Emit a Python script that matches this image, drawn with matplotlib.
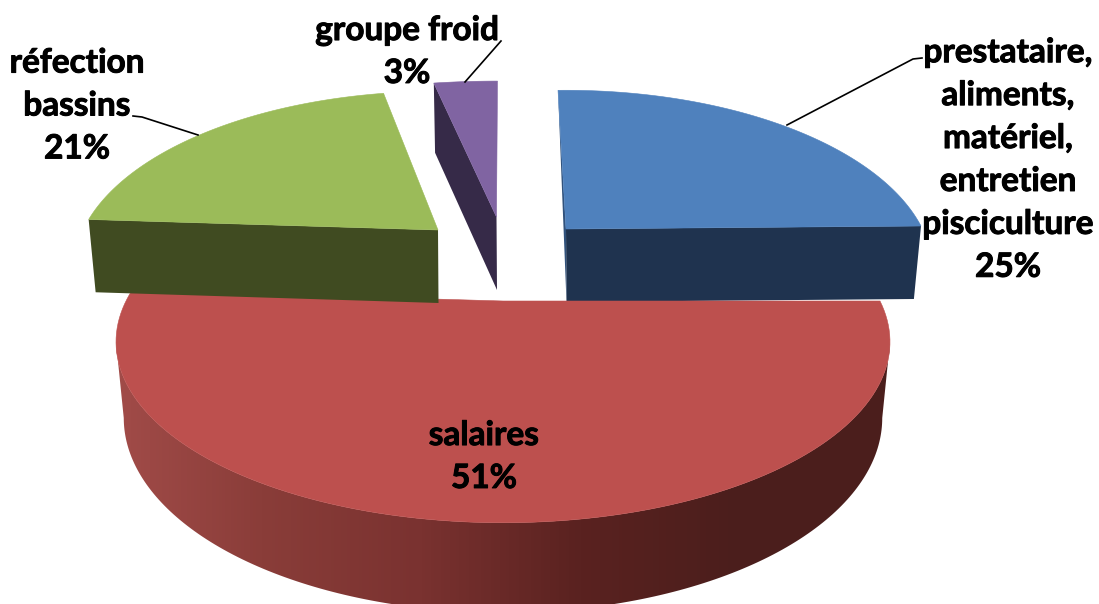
import numpy as np
import matplotlib
matplotlib.use('Agg')
import matplotlib.pyplot as plt
import matplotlib.patheffects as pe
from matplotlib.colors import LinearSegmentedColormap
from matplotlib.patches import Polygon

plt.rcParams['font.family'] = ['Lato', 'DejaVu Sans']

# data
categories = ['prestataire,\naliments,\nmatériel,\nentretien\npisciculture', 'salaires', 'réfection\nbassins', 'groupe froid']
values = [25, 51, 21, 3]

# style of each slice
top_colors = ['#4f81bd', '#bd504e', '#9bbb59', '#8064a2']
wall_colors = ['#1f334f', '#7a3230', '#404b21', '#362a48']
apex_x = [566, 503, 438, 496.5]
apex_y = [229, 301, 230, 217]
width_x = [355, 377, 355, 415]
height_scale = [1.0, 1.01, 1.0, 0.98]
skew = [-9.8, 0, 0, 1.2]
tilt = [3, 0, 0, 0]
label_x = [1008, 484, 77, 407]
label_y = [160, 457, 106, 52]

# perspective of the pie plane
k = 0.2257
B = 170
depth = 73
shrink = 0.98


def rim(i, theta, bottom=False):
    # theta in degrees clockwise from 12 o'clock
    t = np.radians(theta)
    u, v = np.sin(t), np.cos(t)
    w = 1 + k * v
    s = shrink if bottom else 1.0
    x = apex_x[i] + s * (width_x[i] * u + skew[i] * v) / w
    y = (-s * B * height_scale[i] * v) / w - tilt[i] * u
    if bottom:
        # the wall is only a bit shorter towards the back
        y = y + depth / np.where(v < 0, w, 1 + 0.4 * k * v)
    return x, apex_y[i] + y


def apex(i, bottom=False):
    if bottom:
        return apex_x[i] + 0.5, apex_y[i] + depth
    return apex_x[i], apex_y[i]


fig = plt.figure(figsize=(10.99, 6.04), dpi=100, facecolor='white')
ax = fig.add_axes([0, 0, 1, 1])

edges = np.concatenate([[0], np.cumsum(values) * 3.6])

red_cmap = LinearSegmentedColormap.from_list('red_side', ['#a44d4a', '#8a3d39', '#7a3230', '#5a2220', '#4b1e1c', '#4b1e1c'])

# draw back to front
for i in [3, 2, 0, 1]:
    a0, a1 = edges[i], edges[i + 1]
    z = i + 2
    if i == 1:
        # outer wall between the two points where the rim is widest
        widest = np.degrees(np.arccos(-k))
        thetas = np.linspace(widest, 360 - widest, 181)
        tx, ty = rim(i, thetas)
        bx, by = rim(i, thetas, bottom=True)
        wall = Polygon(list(zip(tx, ty)) + list(zip(bx[::-1], by[::-1])), fc='none', ec='none', transform=ax.transData)
        ax.add_patch(wall)
        grad = np.linspace(0, 1, 256).reshape(1, -1)
        im = ax.imshow(grad, cmap=red_cmap, extent=[100, 900, 604, 290], aspect='auto', zorder=z)
        im.set_clip_path(wall)
    elif i == 0:
        # front wall and thin left wall
        ex, ey = rim(i, a1)
        ex2, ey2 = rim(i, a1, bottom=True)
        ax.add_patch(Polygon([apex(i), (ex, ey), (ex2, ey2), apex(i, True)], fc=wall_colors[i], ec='none', zorder=z))
        sx, sy = rim(i, a0)
        ax.add_patch(Polygon([(sx, sy), apex(i), apex(i, True)], fc='#31527c', ec='none', zorder=z))
    else:
        # wall on the slice's left radial edge
        ex, ey = rim(i, a0)
        ex2, ey2 = rim(i, a0, bottom=True)
        ax.add_patch(Polygon([apex(i), (ex, ey), (ex2, ey2), apex(i, True)], fc=wall_colors[i], ec='none', zorder=z))
    thetas = np.linspace(a0, a1, 120)
    tx, ty = rim(i, thetas)
    pts = [apex(i)] + list(zip(tx, ty))
    ax.add_patch(Polygon(pts, fc=top_colors[i], ec=top_colors[i], lw=0.4, zorder=z + 0.5))

# leader lines
ax.plot([787, 913, 922], [125, 59, 58], color='black', lw=1.2, zorder=10)
ax.plot([133, 142, 198], [116, 117, 135], color='black', lw=1.2, zorder=10)
ax.plot([465, 501], [82, 41], color='black', lw=1.2, zorder=10)

for i in range(len(categories)):
    ax.text(label_x[i], label_y[i], '%s\n%d%%' % (categories[i], values[i]), ha='center', va='center',
            fontsize=24, fontweight='bold', color='black', linespacing=1.58, zorder=11,
            path_effects=[pe.withStroke(linewidth=0.7, foreground='black')])

ax.set_xlim(0, 1099)
ax.set_ylim(604, 0)
ax.axis('off')

fig.savefig('out.png', dpi=100)
